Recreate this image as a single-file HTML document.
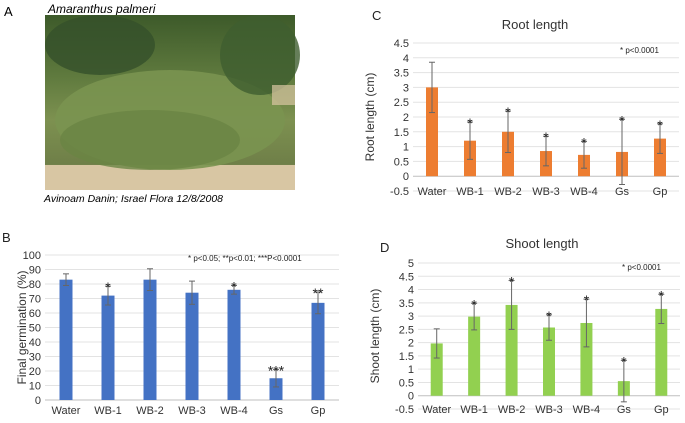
<!DOCTYPE html>
<html><head><meta charset="utf-8"><style>
body{margin:0;background:#fff;width:685px;height:418px;overflow:hidden;font-family:"Liberation Sans",sans-serif}
svg text{font-family:"Liberation Sans",sans-serif}
</style></head><body>
<svg id="fig" width="685" height="418" viewBox="0 0 685 418">
<defs>
<linearGradient id="photoGrad" x1="0" y1="0" x2="0" y2="1">
<stop offset="0" stop-color="#3d5a2a"/><stop offset="0.35" stop-color="#5f7a3e"/><stop offset="0.6" stop-color="#7d9150"/><stop offset="0.85" stop-color="#6f7f48"/><stop offset="1" stop-color="#d9c7a4"/>
</linearGradient>
</defs>
<g>
<text x="4" y="16" font-size="13">A</text>
<text x="48" y="13" font-size="12" font-style="italic">Amaranthus palmeri</text>
<g>
<rect x="45" y="15" width="250" height="175" fill="url(#photoGrad)"/>
<rect x="45" y="165" width="250" height="25" fill="#d8c6a3"/>
<ellipse cx="170" cy="120" rx="115" ry="50" fill="#7a9450" opacity="0.9"/>
<ellipse cx="100" cy="45" rx="55" ry="30" fill="#34502a" opacity="0.8"/>
<ellipse cx="260" cy="55" rx="40" ry="40" fill="#3e5e30" opacity="0.8"/>
<ellipse cx="150" cy="140" rx="90" ry="30" fill="#6a8544" opacity="0.8"/>
<rect x="272" y="85" width="23" height="20" fill="#d8c6a3" opacity="0.7"/>
</g>
<text x="44" y="202" font-size="10.5" font-style="italic">Avinoam Danin; Israel Flora 12/8/2008</text>
</g>
</svg>
<script>
const categories = ["Water","WB-1","WB-2","WB-3","WB-4","Gs","Gp"];
const germValues = [83,72,83,74,76,15,67];
const germErrors = [4,6.5,7.5,8,3,6,7.5];
const germStars = ["","*","","","*","***","**"];
const germTicks = [0,10,20,30,40,50,60,70,80,90,100];
const rootValues = [3.0,1.2,1.5,0.85,0.72,0.82,1.27];
const rootErrors = [0.85,0.63,0.7,0.5,0.45,1.1,0.5];
const rootStars = ["","*","*","*","*","*","*"];
const rootTicks = [-0.5,0,0.5,1,1.5,2,2.5,3,3.5,4,4.5];
const shootValues = [1.97,2.98,3.42,2.57,2.74,0.55,3.27];
const shootErrors = [0.55,0.5,0.92,0.48,0.9,0.78,0.55];
const shootStars = ["","*","*","*","*","*","*"];
const shootTicks = [-0.5,0,0.5,1,1.5,2,2.5,3,3.5,4,4.5,5];

const NS="http://www.w3.org/2000/svg";
const svg=document.getElementById('fig');
function mk(tag,attrs,parent){const e=document.createElementNS(NS,tag);for(const k in attrs)e.setAttribute(k,attrs[k]);(parent||svg).appendChild(e);return e;}
function txt(x,y,s,size,anchor,parent,extra){const t=mk('text',Object.assign({x:x,y:y,'font-size':size,'text-anchor':anchor||'start',fill:'#333'},extra||{}),parent);t.textContent=s;return t;}

function chart(cfg){
  const g=mk('g',{});
  
  
  const tmin=cfg.ticks[0], tmax=cfg.ticks[cfg.ticks.length-1];
  const yS=v=>cfg.y0-(v-tmin)/(tmax-tmin)*(cfg.y0-cfg.y1);
  const xS=i=>cfg.x0+(i+0.5)*(cfg.x1-cfg.x0)/categories.length;
  cfg.ticks.forEach(t=>{
    const l=mk('line',{x1:cfg.x0,x2:cfg.x1,y1:yS(t),y2:yS(t),stroke:t===0?'#bfbfbf':'#e3e3e3','stroke-width':1},g);
    
    
    const tl=txt(cfg.x0-4,yS(t)+4,String(t),11,'end',g);
    
    
  });
  const bw=cfg.bw;
  cfg.values.forEach((v,i)=>{
    const cx=xS(i);
    const b=mk('rect',{x:cx-bw/2,y:Math.min(yS(v),yS(0)),width:bw,height:Math.abs(yS(0)-yS(v)),fill:cfg.color},g);
    
    
    const e=cfg.errors[i];
    const eg=mk('g',{stroke:'#666','stroke-width':1},g);
    
    
    mk('line',{x1:cx,x2:cx,y1:yS(v+e),y2:yS(v-e)},eg);
    mk('line',{x1:cx-3,x2:cx+3,y1:yS(v+e),y2:yS(v+e)},eg);
    mk('line',{x1:cx-3,x2:cx+3,y1:yS(v-e),y2:yS(v-e)},eg);
    if(cfg.stars[i]){
      const s=txt(cx,yS(v+e)+6,cfg.stars[i],14,'middle',g,{fill:'#222'});
      
      
    }
    const xl=txt(cx,cfg.xlabY,categories[i],11,'middle',g);
    
    
  });
  const yt=txt(0,0,cfg.ytitle,12,'middle',g,{transform:`translate(${cfg.ytX},${(cfg.y0+cfg.y1)/2}) rotate(-90)`});
  
  
  if(cfg.title){
    const t=txt(cfg.titleX,cfg.titleY,cfg.title,13,'middle',g);
    
    
  }
  const p=txt(cfg.noteX,cfg.noteY,cfg.note,8,'start',g,{fill:'#222'});
  
  
  const pl=txt(cfg.labX,cfg.labY,cfg.lab,13,'start',g,{fill:'#222'});
  
  
}
chart({name:'germination-chart',values:germValues,errors:germErrors,stars:germStars,ticks:germTicks,color:'#4472c4',
  x0:45,x1:339,y0:400,y1:255,bw:13,xlabY:414,ytitle:'Final germination (%)',ytX:26,
  note:'* p<0.05; **p<0.01; ***P<0.0001',noteX:188,noteY:261,lab:'B',labX:2,labY:242});
chart({name:'root-length-chart',values:rootValues,errors:rootErrors,stars:rootStars,ticks:rootTicks,color:'#ed7d31',
  x0:413,x1:679,y0:191,y1:43,bw:12,xlabY:195,ytitle:'Root length (cm)',ytX:374,title:'Root length',titleX:535,titleY:29,
  note:'* p<0.0001',noteX:620,noteY:53,lab:'C',labX:372,labY:20});
chart({name:'shoot-length-chart',values:shootValues,errors:shootErrors,stars:shootStars,ticks:shootTicks,color:'#92d050',
  x0:418,x1:680,y0:409,y1:263,bw:12,xlabY:413,ytitle:'Shoot length (cm)',ytX:379,title:'Shoot length',titleX:542,titleY:248,
  note:'* p<0.0001',noteX:622,noteY:270,lab:'D',labX:380,labY:252});
</script>
</body></html>
